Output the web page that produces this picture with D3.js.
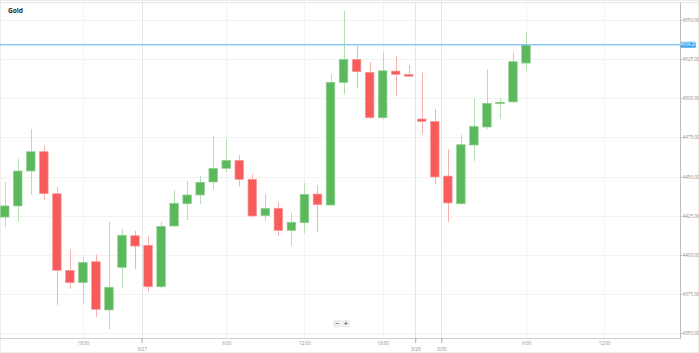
<!DOCTYPE html>
<html><head><meta charset="utf-8">
<script src="https://cdn.jsdelivr.net/npm/d3@7"></script>
<style>html,body{margin:0;padding:0;background:#fff;overflow:hidden}svg{display:block;font-family:"Open Sans",Roboto,Arial,sans-serif}</style>
</head><body><svg id="c" width="699" height="353"></svg>
<script>
const title = "Gold";
const opens  = [4424.2,4431.3,4453.6,4465.9,4439.1,4390.2,4382.3,4395.7,4364.9,4392.1,4412.3,4406.2,4379.7,4418.5,4432.7,4438.3,4446.6,4455.3,4460.4,4448.3,4425.1,4429.8,4415.7,4420.6,4438.9,4431.9,4510.2,4524.9,4516.6,4487.6,4517.4,4515.3,4486.8,4485.3,4450.4,4432.7,4470.2,4481.7,4496.6,4497.7,4522.5];
const highs  = [4446.6,4461.3,4480.4,4469.8,4443.4,4403.4,4398.7,4400.4,4421.2,4416.6,4415.3,4412.1,4421.2,4441.5,4447.2,4450.4,4475.9,4473.8,4463.8,4451.5,4439.1,4433.8,4427.0,4445.9,4444.7,4515.5,4555.9,4534.5,4523.0,4529.4,4527.0,4521.1,4516.4,4493.2,4467.6,4476.6,4500.0,4518.3,4499.8,4529.4,4542.3];
const lows   = [4417.9,4421.7,4438.3,4435.1,4368.2,4378.5,4369.1,4360.4,4352.5,4378.7,4391.0,4376.5,4378.7,4418.0,4422.3,4432.5,4441.5,4452.8,4443.6,4424.2,4421.9,4412.1,4405.7,4413.8,4414.7,4431.3,4502.6,4506.4,4487.0,4487.0,4501.7,4513.6,4477.0,4445.1,4420.9,4432.2,4460.0,4480.4,4487.2,4497.2,4517.6];
const closes = [4431.3,4453.6,4465.9,4439.1,4390.2,4382.3,4395.3,4365.3,4379.4,4412.6,4405.7,4379.7,4418.3,4433.0,4438.3,4446.4,4455.3,4460.4,4448.3,4424.9,4429.8,4415.7,4420.9,4438.7,4432.1,4510.2,4524.9,4517.0,4487.6,4517.6,4515.3,4514.1,4485.3,4449.8,4433.2,4470.4,4482.1,4496.8,4497.5,4523.4,4534.2];
const yTicks = [4350,4375,4400,4425,4450,4475,4500,4525,4550];
const xTickIdx    = [6, 10.5, 17, 23, 29, 31.5, 33.5, 40, 46];
const xTickLabels = ["18:00","3/27","6:00","12:00","18:00","3/29","3/30","6:00","12:00"];
const xTickIsDate = [false,true,false,false,false,true,true,false,false];

const W = 699, H = 353;
const plotL = 0, plotR = 680, plotT = 3, plotB = 338;
const svg = d3.select("#c");

const x = d3.scaleLinear().domain([0, 40]).range([4.7, 526.0]);
const y = d3.scaleLinear().domain([4350, 4550]).range([333.3, 20]);

svg.append("rect").attr("x",0.5).attr("y",0.5).attr("width",W-1).attr("height",H-1)
  .attr("fill","#fff").attr("stroke","#ececec");

svg.append("defs").append("clipPath").attr("id","clip").append("rect")
  .attr("x",plotL).attr("y",plotT).attr("width",plotR-plotL).attr("height",plotB-plotT);

// horizontal grid
svg.append("g").selectAll("line").data(yTicks).join("line")
  .attr("x1",plotL).attr("x2",plotR)
  .attr("y1",d=>Math.round(y(d))+0.5).attr("y2",d=>Math.round(y(d))+0.5)
  .attr("stroke","#f3f3f3");

// vertical grid
svg.append("g").selectAll("line").data(xTickIdx).join("line")
  .attr("x1",d=>Math.round(x(d))+0.5).attr("x2",d=>Math.round(x(d))+0.5)
  .attr("y1",plotT).attr("y2",plotB)
  .attr("stroke",(d,i)=>xTickIsDate[i]?"#e6e6e6":"#f3f3f3");

// top line
svg.append("line").attr("x1",0).attr("x2",W).attr("y1",2.5).attr("y2",2.5).attr("stroke","#e6e6e6");

const data = opens.map((o,i)=>({i,o,h:highs[i],l:lows[i],c:closes[i]}));
const g = svg.append("g").attr("clip-path","url(#clip)");
const bw = 8.6;
const up = d=>d.c>=d.o;
g.selectAll("line.w").data(data).join("line").attr("class","w")
  .attr("x1",d=>Math.round(x(d.i))+0.5).attr("x2",d=>Math.round(x(d.i))+0.5)
  .attr("y1",d=>y(d.h)).attr("y2",d=>y(d.l))
  .attr("stroke",d=>up(d)?"#b3dfb3":"#f7b0b0").attr("stroke-width",1);
g.selectAll("rect.b").data(data).join("rect").attr("class","b")
  .attr("x",d=>x(d.i)-bw/2).attr("width",bw)
  .attr("y",d=>y(Math.max(d.o,d.c)))
  .attr("height",d=>Math.max(1.5,Math.abs(y(d.o)-y(d.c))))
  .attr("fill",d=>up(d)?"#5cb85c":"#f75b5b")
  .attr("stroke",d=>up(d)?"#93d293":"#f99a9a").attr("stroke-width",0.7);

// current price line
const last = closes[closes.length-1];
svg.append("line").attr("x1",plotL).attr("x2",plotR)
  .attr("y1",y(last)).attr("y2",y(last))
  .attr("stroke","#8ccbf3").attr("stroke-width",1.6);

// axes lines
svg.append("line").attr("x1",plotL).attr("x2",plotR).attr("y1",plotB+0.5).attr("y2",plotB+0.5).attr("stroke","#cfcfcf");
svg.append("line").attr("x1",plotR+0.5).attr("x2",plotR+0.5).attr("y1",plotT).attr("y2",plotB+1).attr("stroke","#bdbdbd");

// y axis
const yAxis = d3.axisRight(y).tickValues(yTicks).tickSize(2).tickFormat(d3.format(".2f"));
const ya = svg.append("g").attr("transform",`translate(${plotR},0)`).call(yAxis);
ya.select(".domain").remove();
ya.selectAll(".tick line").attr("stroke","#bbb");
ya.selectAll(".tick text").attr("x",2.5).attr("fill","#8a8a8a").attr("font-size","4.6px").attr("font-family","'Open Sans',Roboto,sans-serif");

// price label
const py = y(last);
svg.append("rect").attr("x",plotR+0.5).attr("y",py-3).attr("width",15.5).attr("height",6).attr("rx",1.5)
  .attr("fill","#3ea6ec");
svg.append("text").attr("x",plotR+8.3).attr("y",py+1.6).attr("text-anchor","middle")
  .attr("font-size","4.4px").attr("fill","#fff").text(d3.format(".2f")(last));

// x axis
const xAxis = d3.axisBottom(x).tickValues(xTickIdx).tickSize(0).tickFormat((d,i)=>xTickLabels[i]);
const xa = svg.append("g").attr("transform",`translate(0,${plotB})`).call(xAxis);
xa.select(".domain").remove();
xa.selectAll(".tick text").attr("fill","#8a8a8a").attr("font-size","4.6px")
  .attr("font-family","'Open Sans',Roboto,sans-serif")
  .attr("dy",0).attr("y",(d,i)=>xTickIsDate[i]?12.6:7);
xa.selectAll(".tick").each(function(d,i){
  if(xTickIsDate[i]) d3.select(this).select("line").attr("y1",0).attr("y2",5).attr("stroke","#aaa");
});

// title
svg.append("text").attr("x",8).attr("y",12.6).attr("font-size","6.6px").attr("font-weight","bold")
  .attr("fill","#2b2b2b").text(title);

// zoom buttons
const zb = svg.append("g");
[["−",333.5],["+",342]].forEach(([t,bx])=>{
  zb.append("rect").attr("x",bx).attr("y",320.5).attr("width",7.5).attr("height",6.5).attr("rx",1).attr("fill","#efefef").attr("stroke","#e2e2e2").attr("stroke-width",0.5);
  zb.append("text").attr("x",bx+3.75).attr("y",325.9).attr("text-anchor","middle").attr("font-size","6.5px").attr("font-weight","bold").attr("fill","#666").text(t);
});
</script></body></html>
